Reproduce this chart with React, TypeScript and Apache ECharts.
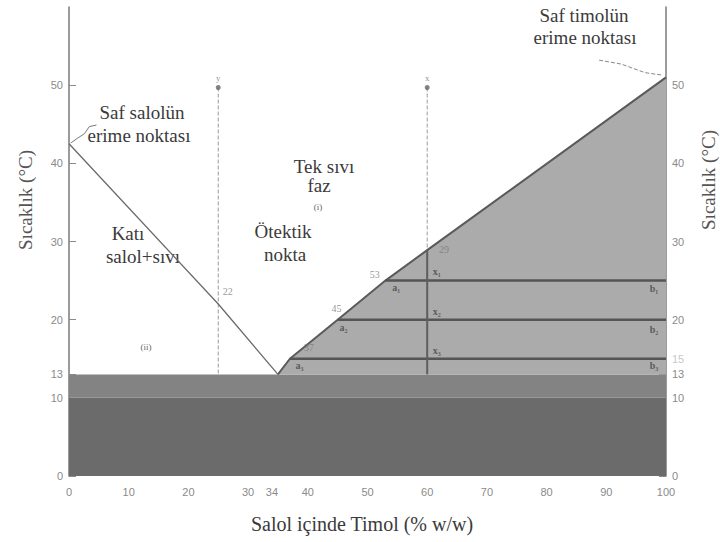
import React, { useEffect, useRef } from "react";
import * as echarts from "echarts";

// ---- data ----
const xTickValues = [0, 10, 20, 30, 34, 40, 50, 60, 70, 80, 90, 100];
const leftTickValues = [0, 10, 13, 20, 30, 40, 50];
const rightTickValues = [0, 10, 13, 15, 20, 30, 40, 50];
const faintRightTick = 15;

const salolLiquidus = [[0, 42.5], [25, 22], [35, 13]];
const timolLiquidus = [[35, 13], [37, 15], [45, 20], [53, 25], [60, 28.9], [100, 51]];

const tieTemps = [25, 20, 15];
const tieStarts = [53, 45, 37];

const solidBelow10 = [[0, 0], [100, 0], [100, 10], [0, 10]];
const solidBand = [[0, 10], [100, 10], [100, 13], [0, 13]];

const compY = 25;
const compX = 60;
const startTemp = 49.7;
const eutecticTemp = 13;
const xCrossTemp = 28.9;

const salolArrow = [[4.6, 44.9], [3.4, 44.7], [2.6, 43.8], [1.4, 43.2], [0.3, 42.6]];
const timolArrow = [[88.8, 53.2], [92.5, 52.7], [96.5, 51.6], [99.2, 51.3]];

const numberLabels = [
  { name: "22", value: [26.6, 23.6] },
  { name: "37", value: [40.2, 16.4] },
  { name: "45", value: [44.8, 21.4] },
  { name: "53", value: [51.2, 25.8] },
  { name: "29", value: [62.8, 29.0] },
];
const pointNames = [
  { name: "a₁", value: [54.8, 24.1] },
  { name: "a₂", value: [46.0, 19.0] },
  { name: "a₃", value: [38.6, 14.1] },
  { name: "x₁", value: [61.6, 26.1] },
  { name: "x₂", value: [61.6, 21.1] },
  { name: "x₃", value: [61.6, 16.1] },
  { name: "b₁", value: [98.0, 24.0] },
  { name: "b₂", value: [98.0, 18.8] },
  { name: "b₃", value: [98.0, 14.1] },
];
const topPoints = [
  { name: "y", value: [compY, startTemp] },
  { name: "x", value: [compX, startTemp] },
];

const SERIF = "'Liberation Serif', 'Times New Roman', serif";
const SANS = "'Liberation Sans', Arial, sans-serif";

function polygonSeries(points: number[][], fill: string, z: number) {
  return {
    type: "custom",
    z,
    silent: true,
    clip: false,
    data: points,
    renderItem: (params: any, api: any) => {
      if (params.dataIndex !== 0) return null;
      const pts = points.map((p) => api.coord(p));
      return { type: "polygon", shape: { points: pts }, style: { fill, stroke: null } };
    },
  };
}

function lineSeries(data: number[][], color: string, width: number, type: string = "solid", z = 5) {
  return {
    type: "line",
    data,
    z,
    silent: true,
    symbol: "none",
    lineStyle: { color, width, type },
  };
}

export default function App() {
  const ref = useRef<HTMLDivElement>(null);
  useEffect(() => {
    if (!ref.current) return;
    const chart = echarts.init(ref.current, null, { renderer: "svg" });

    const tieSeries = tieTemps.map((t, i) =>
      lineSeries([[tieStarts[i], t], [100, t]], "#555", 2.5, "solid", 6)
    );

    const text = (t: string, x: number, y: number, size: number, fill: string, extra: any = {}) => ({
      type: "text",
      x,
      y,
      silent: true,
      style: {
        text: t,
        font: `${size}px ${SERIF}`,
        fill,
        textAlign: "center",
        textVerticalAlign: "middle",
        ...extra,
      },
    });

    chart.setOption({
      animation: false,
      backgroundColor: "#ffffff",
      grid: { left: 69, right: 54, top: 7, bottom: 66 },
      xAxis: {
        type: "value",
        min: 0,
        max: 100,
        axisLine: { show: false },
        axisTick: { show: false },
        splitLine: { show: false },
        axisLabel: {
          customValues: xTickValues,
          color: "#8a8a8a",
          fontSize: 11,
          fontFamily: SANS,
          margin: 10,
        },
      },
      yAxis: [
        {
          type: "value",
          min: 0,
          max: 60,
          position: "left",
          axisLine: { show: true, lineStyle: { color: "#7a7a7a", width: 1.5 } },
          axisTick: { show: true, inside: true, length: 7, customValues: leftTickValues, lineStyle: { color: "#8a8a8a" } },
          splitLine: { show: false },
          axisLabel: { customValues: leftTickValues, color: "#8a8a8a", fontSize: 11, fontFamily: SANS, margin: 6 },
        },
        {
          type: "value",
          min: 0,
          max: 60,
          position: "right",
          axisLine: { show: true, lineStyle: { color: "#7a7a7a", width: 1.5 } },
          axisTick: { show: true, inside: true, length: 7, customValues: rightTickValues, lineStyle: { color: "#8a8a8a" } },
          splitLine: { show: false },
          axisLabel: {
            customValues: rightTickValues,
            color: "#8a8a8a",
            fontSize: 11,
            fontFamily: SANS,
            margin: 6,
            formatter: (v: any) => (Number(v) === faintRightTick ? `{f|${v}}` : String(v)),
            rich: { f: { color: "#c8c8c8", fontSize: 11, fontFamily: SANS } },
          },
        },
      ],
      series: [
        polygonSeries(solidBelow10, "#6b6b6b", 1),
        polygonSeries(solidBand, "#838383", 1),
        polygonSeries([...timolLiquidus, [100, eutecticTemp]], "#ababab", 1),
        lineSeries(salolLiquidus, "#6a6a6a", 1.3),
        lineSeries(timolLiquidus, "#5a5a5a", 2),
        ...tieSeries,
        lineSeries([[compY, startTemp], [compY, eutecticTemp]], "#9a9a9a", 1, "dashed", 4),
        lineSeries([[compX, startTemp], [compX, xCrossTemp]], "#9a9a9a", 1, "dashed", 4),
        lineSeries([[compX, xCrossTemp], [compX, eutecticTemp]], "#5e5e5e", 2, "solid", 6),
        lineSeries(salolArrow, "#777", 1, "solid", 4),
        lineSeries(timolArrow, "#888", 1, "dashed", 4),
        {
          type: "scatter",
          z: 8,
          silent: true,
          symbol: "circle",
          symbolSize: 5,
          itemStyle: { color: "#666" },
          data: topPoints,
          label: {
            show: true,
            position: "top",
            distance: 3,
            formatter: (p: any) => p.name,
            color: "#777",
            fontSize: 9,
            fontFamily: SERIF,
          },
        },
        {
          type: "scatter",
          z: 8,
          silent: true,
          symbolSize: 0,
          data: numberLabels,
          label: {
            show: true,
            position: "inside",
            formatter: (p: any) => p.name,
            color: "#7a7a7a",
            fontSize: 10,
            fontFamily: SERIF,
          },
        },
        {
          type: "scatter",
          z: 8,
          silent: true,
          symbolSize: 0,
          data: pointNames,
          label: {
            show: true,
            position: "inside",
            formatter: (p: any) => p.name,
            color: "#444",
            fontSize: 10,
            fontWeight: "bold",
            fontFamily: SERIF,
          },
        },
      ],
      graphic: [
        text("Saf salolün", 142, 112, 19, "#3a3a3a"),
        text("erime noktası", 139, 135, 19, "#3a3a3a"),
        text("Saf timolün", 584, 15, 19, "#3a3a3a"),
        text("erime noktası", 585, 37, 19, "#3a3a3a"),
        text("Tek sıvı", 324, 166, 19, "#3a3a3a"),
        text("faz", 319, 185, 19, "#3a3a3a"),
        text("(i)", 318, 207, 9, "#666"),
        text("Ötektik", 283, 231, 19, "#3a3a3a"),
        text("nokta", 285, 254, 19, "#3a3a3a"),
        text("Katı", 128, 233, 19, "#3a3a3a"),
        text("salol+sıvı", 143, 256, 19, "#3a3a3a"),
        text("(ii)", 146, 347, 9, "#666"),
        text("Sıvı+katı", 542, 219, 19, "#4e4e4e", { fontWeight: "bold" }),
        text("timol", 553, 236, 19, "#4e4e4e", { fontWeight: "bold" }),
        text("(iii)", 551, 253, 9, "#555"),
        text("Salol içinde Timol (% w/w)", 362, 524, 20, "#3a3a3a"),
        {
          type: "text",
          x: 25,
          y: 200,
          rotation: Math.PI / 2,
          silent: true,
          style: {
            text: "Sıcaklık (°C)",
            font: `19px ${SERIF}`,
            fill: "#555",
            textAlign: "center",
            textVerticalAlign: "middle",
          },
        },
        {
          type: "text",
          x: 708,
          y: 180,
          rotation: Math.PI / 2,
          silent: true,
          style: {
            text: "Sıcaklık (°C)",
            font: `19px ${SERIF}`,
            fill: "#555",
            textAlign: "center",
            textVerticalAlign: "middle",
          },
        },
      ],
    });
    return () => chart.dispose();
  }, []);
  return <div ref={ref} style={{ width: 720, height: 542, position: "absolute", left: 0, top: 0 }} />;
}
